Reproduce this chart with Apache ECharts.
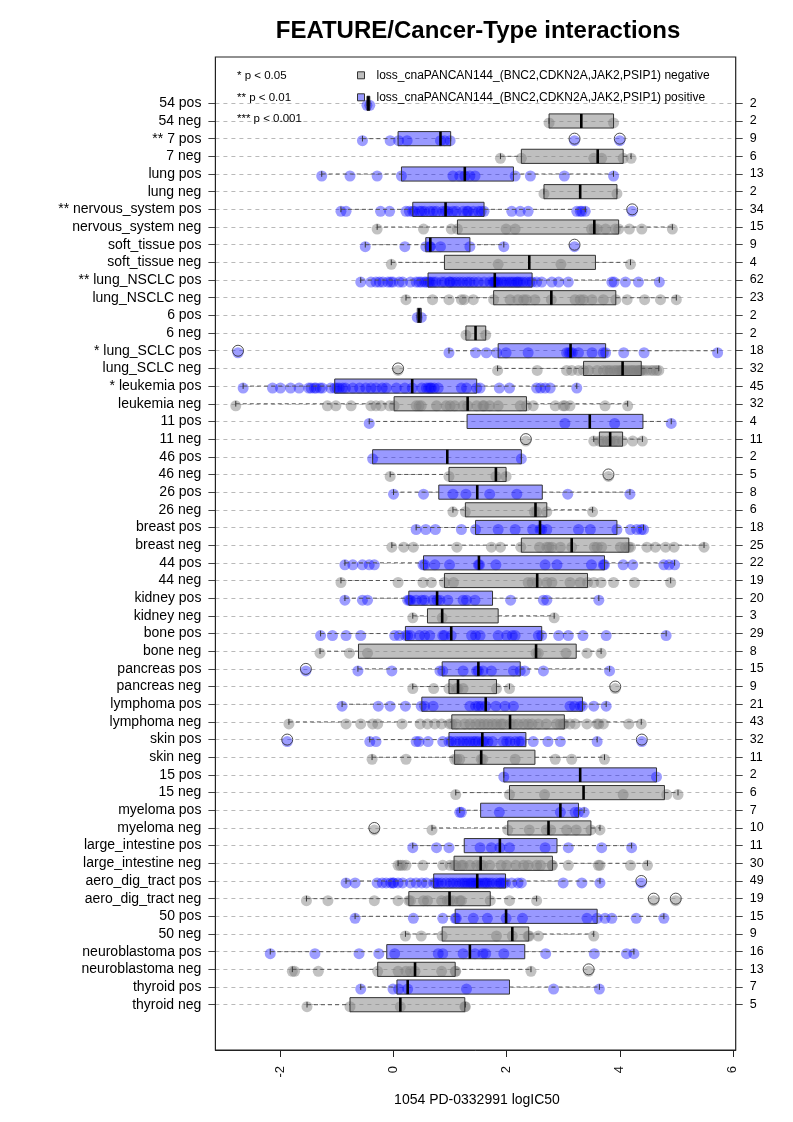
<!DOCTYPE html>
<html><head><meta charset="utf-8">
<script src="https://cdn.jsdelivr.net/npm/echarts/dist/echarts.min.js"></script>
<style>html,body{margin:0;padding:0;background:#fff}#c{width:793px;height:1122px}</style>
</head><body><div id="c"></div>
<script>
const categories = ['54 pos','54 neg','** 7 pos','7 neg','lung pos','lung neg','** nervous_system pos','nervous_system neg','soft_tissue pos','soft_tissue neg','** lung_NSCLC pos','lung_NSCLC neg','6 pos','6 neg','* lung_SCLC pos','lung_SCLC neg','* leukemia pos','leukemia neg','11 pos','11 neg','46 pos','46 neg','26 pos','26 neg','breast pos','breast neg','44 pos','44 neg','kidney pos','kidney neg','bone pos','bone neg','pancreas pos','pancreas neg','lymphoma pos','lymphoma neg','skin pos','skin neg','15 pos','15 neg','myeloma pos','myeloma neg','large_intestine pos','large_intestine neg','aero_dig_tract pos','aero_dig_tract neg','50 pos','50 neg','neuroblastoma pos','neuroblastoma neg','thyroid pos','thyroid neg'];
const counts = [2,2,9,6,13,2,34,15,9,4,62,23,2,2,18,32,45,32,4,11,2,5,8,6,18,25,22,19,20,3,29,8,15,9,21,43,32,11,2,6,7,10,11,30,49,19,15,9,16,13,7,5];
// [whisker low, Q1, median, Q3, whisker high]
const boxStats = [
[-0.47,-0.47,-0.445,-0.42,-0.42],[2.75,2.75,3.32,3.89,3.89],[-0.55,0.08,0.83,1.01,1.01],[1.89,2.26,3.61,4.06,4.2],
[-1.27,0.14,1.26,2.12,3.89],[2.66,2.66,3.3,3.95,3.95],[-0.93,0.34,0.92,1.6,3.39],[-0.29,1.13,3.55,3.98,4.93],
[-0.5,0.57,0.65,1.35,1.95],[-0.04,0.9,2.4,3.57,4.19],[-0.58,0.61,1.79,2.45,4.7],[0.22,1.77,2.79,3.93,5.0],
[0.42,0.42,0.455,0.49,0.49],[1.28,1.28,1.45,1.63,1.63],[0.98,1.85,3.13,3.75,5.73],[1.84,3.36,4.05,4.38,4.69],
[-2.66,-1.04,0.33,1.47,3.24],[-2.79,0.01,1.31,2.35,4.14],[-0.43,1.3,3.47,4.41,4.91],[3.54,3.64,3.83,4.05,4.4],
[-0.37,-0.37,0.95,2.26,2.26],[-0.06,0.98,1.81,1.99,1.99],[0.0,0.8,1.48,2.63,4.18],[1.05,1.27,2.51,2.71,3.52],
[0.4,1.45,2.59,3.95,4.42],[-0.03,2.26,3.15,4.16,5.49],[-0.86,0.53,1.51,3.73,4.97],[-0.93,0.9,2.54,3.43,4.9],
[-0.86,0.27,0.77,1.75,3.63],[0.34,0.6,0.86,1.85,2.84],[-1.29,0.21,1.02,2.62,4.82],[-1.3,-0.62,2.52,3.23,3.67],
[-0.63,0.86,1.5,2.24,3.82],[0.34,0.98,1.14,1.82,2.05],[-0.91,0.5,1.63,3.34,3.76],[-1.85,1.03,2.06,3.02,4.38],
[-0.42,0.98,1.57,2.34,3.6],[-0.38,1.08,1.55,2.5,3.73],[1.95,1.95,3.3,4.65,4.65],[1.1,2.05,3.36,4.79,5.03],
[1.17,1.54,2.95,3.27,3.37],[0.68,2.02,2.74,3.49,3.65],[0.34,1.25,1.88,2.89,4.21],[0.08,1.07,1.54,2.81,4.49],
[-0.84,0.71,1.48,1.98,3.65],[-1.54,0.27,0.99,1.71,2.53],[-0.68,1.09,1.99,3.6,4.78],[0.21,0.86,2.1,2.39,3.54],
[-2.18,-0.12,1.35,2.32,4.25],[-1.79,-0.28,0.38,1.09,2.43],[-0.58,0.06,0.25,2.05,3.64],[-1.53,-0.77,0.12,1.26,1.27]
];
const points = [
[-0.47,-0.42],
[2.75,3.89],
[-0.55,-0.06,0.09,0.24,0.83,0.9,1.0,3.2,4.0],
[1.89,2.26,3.54,3.68,4.06,4.2],
[-1.27,-0.77,-0.29,0.14,1.05,1.17,1.26,1.35,1.44,2.15,2.42,3.02,3.89],
[2.66,3.95],
[-0.93,-0.84,-0.23,-0.07,0.22,0.28,0.34,0.37,0.46,0.5,0.55,0.64,0.7,0.76,0.87,0.92,0.96,1.05,1.11,1.23,1.3,1.32,1.41,1.5,1.55,1.6,2.09,2.24,2.38,3.24,3.3,3.33,3.39,4.22],
[-0.29,0.53,1.02,1.13,1.99,2.15,3.5,3.55,3.6,3.75,3.92,3.98,4.17,4.39,4.93],
[-0.5,0.2,0.57,0.64,0.65,0.83,1.35,1.95,3.2],
[-0.04,1.85,2.96,4.19],
[-0.58,-0.4,-0.31,-0.25,-0.19,-0.1,-0.05,-0.01,0.1,0.16,0.3,0.4,0.45,0.49,0.55,0.58,0.62,0.65,0.7,0.75,0.85,0.9,0.99,1.0,1.05,1.11,1.17,1.23,1.3,1.35,1.42,1.5,1.6,1.7,1.76,1.78,1.79,1.82,1.85,1.91,1.95,2.0,2.05,2.09,2.13,2.18,2.2,2.24,2.29,2.35,2.41,2.45,2.53,2.62,2.8,2.92,3.09,3.86,3.9,4.1,4.33,4.7],
[0.22,0.69,0.98,1.2,1.25,1.41,1.77,2.06,2.2,2.3,2.35,2.5,2.79,3.21,3.3,3.36,3.51,3.71,3.93,4.13,4.44,4.72,5.0],
[0.42,0.49],
[1.28,1.63],
[-2.75,0.98,1.45,1.64,1.82,1.99,2.38,3.06,3.1,3.13,3.16,3.27,3.51,3.71,3.75,4.07,4.43,5.73],
[0.08,1.84,2.54,3.06,3.15,3.27,3.36,3.45,3.6,3.71,3.78,3.83,3.9,3.95,4.0,4.03,4.05,4.08,4.13,4.18,4.22,4.25,4.3,4.34,4.36,4.38,4.42,4.48,4.55,4.6,4.65,4.69],
[-2.66,-2.14,-2.0,-1.82,-1.67,-1.5,-1.46,-1.4,-1.37,-1.3,-1.26,-1.11,-1.04,-1.0,-0.96,-0.9,-0.85,-0.72,-0.6,-0.49,-0.4,-0.31,-0.2,-0.13,0.05,0.2,0.33,0.5,0.58,0.62,0.65,0.67,0.72,0.79,1.2,1.29,1.47,1.53,1.87,2.05,2.53,2.6,2.68,2.77,3.24],
[-2.79,-1.17,-1.02,-0.75,-0.4,-0.31,-0.22,-0.07,0.01,0.4,0.45,0.49,0.76,0.93,1.0,1.08,1.23,1.31,1.47,1.58,1.6,1.7,1.85,2.24,2.35,2.47,2.86,3.0,3.03,3.12,3.74,4.14],
[-0.43,3.03,3.91,4.91],
[2.34,3.54,3.64,3.7,3.78,3.83,3.9,3.95,4.05,4.23,4.4],
[-0.37,2.26],
[-0.06,0.98,1.81,1.99,3.8],
[0.0,0.53,1.05,1.28,1.7,2.18,3.08,4.18],
[1.05,1.27,2.49,2.53,2.71,3.52],
[0.4,0.57,0.74,1.2,1.45,1.85,2.15,2.46,2.59,2.62,2.71,3.27,3.48,3.95,4.19,4.3,4.38,4.42],
[-0.03,0.18,0.35,1.12,1.73,1.89,2.25,2.58,2.71,2.75,2.8,2.95,3.15,3.55,3.6,3.68,4.01,4.1,4.16,4.19,4.48,4.63,4.81,4.96,5.49],
[-0.86,-0.72,-0.55,-0.43,-0.34,0.52,0.55,0.73,0.99,1.5,1.52,1.81,2.68,2.89,3.5,3.71,3.73,4.06,4.23,4.78,4.87,4.97],
[-0.93,0.08,0.52,0.67,0.9,1.06,2.38,2.45,2.54,2.71,2.8,3.12,3.3,3.43,3.54,3.67,3.89,4.26,4.9],
[-0.86,-0.55,-0.46,0.25,0.28,0.3,0.4,0.5,0.55,0.7,0.77,0.82,0.96,1.23,1.29,1.44,2.07,2.65,2.71,3.63],
[0.34,0.86,2.84],
[-1.29,-1.08,-0.84,-0.58,0.02,0.1,0.21,0.25,0.3,0.46,0.55,0.64,0.87,0.9,1.02,1.38,1.45,1.53,1.85,2.0,2.1,2.15,2.56,2.62,2.92,3.09,3.35,3.76,4.82],
[-1.3,-0.78,-0.46,2.52,2.56,3.05,3.42,3.67],
[-1.55,-0.63,-0.03,0.82,0.87,1.23,1.47,1.5,1.58,1.73,2.12,2.24,2.32,2.65,3.82],
[0.34,0.71,0.98,1.11,1.14,1.23,1.82,2.05,3.92],
[-0.91,-0.27,-0.06,0.21,0.49,0.55,0.7,1.35,1.45,1.5,1.55,1.63,1.81,1.97,2.12,3.12,3.2,3.3,3.34,3.54,3.76],
[-1.85,-0.84,-0.58,-0.37,-0.28,0.15,0.47,0.6,0.73,0.85,0.99,1.03,1.11,1.26,1.35,1.45,1.53,1.6,1.67,1.75,1.82,1.9,1.94,2.06,2.12,2.2,2.3,2.38,2.45,2.56,2.7,2.88,2.95,3.0,3.02,3.12,3.21,3.42,3.6,3.63,3.71,4.16,4.38],
[-1.88,-0.42,-0.31,0.4,0.45,0.61,0.87,0.98,1.02,1.1,1.17,1.23,1.29,1.35,1.41,1.45,1.5,1.57,1.6,1.67,1.75,1.94,2.0,2.06,2.15,2.22,2.26,2.47,2.73,2.95,3.6,4.39],
[-0.38,0.22,1.08,1.12,1.17,1.55,1.58,2.15,2.86,3.15,3.73],
[1.95,4.65],
[1.1,2.05,2.67,4.06,4.83,5.03],
[1.17,1.2,1.87,2.95,3.21,3.27,3.37],
[-0.34,0.68,2.02,2.4,2.7,2.78,3.06,3.23,3.49,3.65],
[0.34,0.76,0.98,1.53,1.73,1.88,2.05,2.68,3.09,3.68,4.21],
[0.08,0.12,0.16,0.22,0.52,0.87,1.0,1.07,1.1,1.2,1.23,1.35,1.47,1.54,1.58,1.7,1.9,2.0,2.16,2.3,2.38,2.53,2.6,2.8,2.81,3.09,3.62,3.65,4.19,4.49],
[-0.84,-0.68,-0.29,-0.2,-0.13,-0.05,-0.01,0.0,0.08,0.16,0.3,0.4,0.5,0.58,0.71,0.75,0.79,0.85,0.93,1.0,1.05,1.11,1.17,1.22,1.26,1.3,1.35,1.38,1.41,1.45,1.48,1.52,1.58,1.62,1.65,1.7,1.75,1.82,1.88,1.9,1.94,1.98,2.09,2.2,2.26,3.0,3.33,3.65,4.38],
[-1.54,-1.16,-0.34,0.08,0.27,0.3,0.53,0.6,0.85,0.95,0.99,1.05,1.17,1.2,1.71,2.05,2.53,4.6,4.99],
[-0.68,0.35,0.87,1.09,1.11,1.41,1.66,1.99,2.28,3.42,3.6,3.74,3.86,4.29,4.78],
[0.21,0.49,0.86,1.82,2.1,2.38,2.4,2.56,3.54],
[-2.18,-1.39,-0.61,-0.26,0.02,0.79,0.87,1.23,1.44,1.58,1.63,1.95,2.69,3.55,4.12,4.25],
[-1.79,-1.75,-1.33,-0.28,0.08,0.22,0.3,0.38,0.85,1.09,1.1,2.43,3.45],
[-0.58,-0.01,0.09,0.25,1.29,2.83,3.64],
[-1.53,-0.77,0.12,1.26,1.27]
];
const xTicks = [-2, 0, 2, 4, 6];
const pLegend = ['* p < 0.05', '** p < 0.01', '*** p < 0.001'];
const featureName = 'loss_cnaPANCAN144_(BNC2,CDKN2A,JAK2,PSIP1)';

const FONT = '"Liberation Sans", Arial, Helvetica, sans-serif';
const posPts = [], negPts = [], outPts = [], boxData = [];
categories.forEach((name, k) => {
  const pos = /pos$/.test(name);
  const [lo, q1, md, q3, hi] = boxStats[k];
  boxData.push([k, lo, q1, md, q3, hi]);
  points[k].forEach(v => {
    (pos ? posPts : negPts).push([v, k]);
    if (v < lo - 1e-9 || v > hi + 1e-9) outPts.push([v, k]);
  });
});

function renderBox(params, api) {
  const k = api.value(0);
  const y = api.coord([0, k])[1];
  const X = v => api.coord([v, k])[0];
  const xLo = X(api.value(1)), xQ1 = X(api.value(2)), xMd = X(api.value(3)), xQ3 = X(api.value(4)), xHi = X(api.value(5));
  const rowH = api.size([0, 1])[1];
  const bh = rowH * 0.8, sh = rowH * 0.32;
  const pos = /pos$/.test(categories[k]);
  const wStyle = {stroke: '#555', lineWidth: 1, lineDash: [4, 3]};
  const children = [];
  if (xQ1 - xLo > 0.5) children.push({type: 'line', shape: {x1: xLo, y1: y, x2: xQ1, y2: y}, style: wStyle});
  if (xHi - xQ3 > 0.5) children.push({type: 'line', shape: {x1: xQ3, y1: y, x2: xHi, y2: y}, style: wStyle});
  children.push({type: 'line', shape: {x1: xLo, y1: y - sh / 2, x2: xLo, y2: y + sh / 2}, style: {stroke: '#333', lineWidth: 1}});
  children.push({type: 'line', shape: {x1: xHi, y1: y - sh / 2, x2: xHi, y2: y + sh / 2}, style: {stroke: '#333', lineWidth: 1}});
  children.push({type: 'rect', shape: {x: xQ1, y: y - bh / 2, width: Math.max(xQ3 - xQ1, 1), height: bh},
    style: {fill: pos ? 'rgba(0,0,255,0.4)' : 'rgba(128,128,128,0.5)', stroke: '#333', lineWidth: 1}});
  children.push({type: 'line', shape: {x1: xMd, y1: y - bh / 2, x2: xMd, y2: y + bh / 2}, style: {stroke: '#000', lineWidth: 2.6}});
  return {type: 'group', children};
}

const chart = echarts.init(document.getElementById('c'));
const L = 215.4, R = 735.7, T = 57, B = 1050;
chart.setOption({
  animation: false,
  textStyle: {fontFamily: FONT},
  grid: {left: L, right: 793 - R, top: 103.3, height: 901.4, containLabel: false},
  xAxis: {
    type: 'value', min: -3.15, max: 6.05, position: 'bottom', offset: 45.3,
    axisLine: {show: true, onZero: false, lineStyle: {color: '#222', width: 1}},
    axisTick: {show: true, length: 7, customValues: xTicks, lineStyle: {color: '#222'}},
    axisLabel: {show: true, customValues: xTicks, rotate: 90, margin: 16, fontSize: 13, color: '#111', fontFamily: FONT},
    splitLine: {show: false}
  },
  yAxis: [{
    type: 'category', data: categories, inverse: true, boundaryGap: false, position: 'left',
    axisLine: {show: false, onZero: false},
    axisTick: {show: true, interval: 0, length: 7, lineStyle: {color: '#444'}},
    axisLabel: {interval: 0, margin: 14, fontSize: 14, color: '#000', fontFamily: FONT},
    splitLine: {show: true, interval: 0, lineStyle: {color: '#b9b9b9', type: [4, 4], width: 1}}
  }, {
    type: 'category', data: categories, inverse: true, boundaryGap: false, position: 'right',
    axisLine: {show: false, onZero: false},
    axisTick: {show: true, interval: 0, length: 7, lineStyle: {color: '#444'}},
    axisLabel: {interval: 0, margin: 14, fontSize: 12.5, color: '#000', fontFamily: FONT, formatter: (v, i) => String(counts[i])},
    splitLine: {show: false}
  }],
  series: [
    {type: 'scatter', data: negPts, symbolSize: 11, symbolOffset: [0, 2], clip: false, z: 2, silent: true,
      itemStyle: {color: 'rgba(128,128,128,0.6)'}},
    {type: 'scatter', data: posPts, symbolSize: 11, symbolOffset: [0, 2], clip: false, z: 2, silent: true,
      itemStyle: {color: 'rgba(0,0,255,0.48)'}},
    {type: 'custom', data: boxData, renderItem: renderBox, encode: {x: [1, 2, 3, 4, 5], y: 0}, clip: false, z: 3, silent: true},
    {type: 'scatter', data: outPts, symbolSize: 11, clip: false, z: 4, silent: true,
      itemStyle: {color: 'rgba(0,0,0,0)', borderColor: '#222', borderWidth: 1}}
  ],
  graphic: [
    {type: 'rect', shape: {x: L, y: T, width: R - L, height: B - T}, style: {fill: null, stroke: '#222', lineWidth: 1.2}, z: 10, silent: true},
    {type: 'text', x: 478, y: 31, style: {text: 'FEATURE/Cancer-Type interactions', font: 'bold 24px ' + FONT, fill: '#000', align: 'center', verticalAlign: 'middle'}},
    {type: 'text', x: 477, y: 1100, style: {text: '1054 PD-0332991 logIC50', font: '14px ' + FONT, fill: '#000', align: 'center', verticalAlign: 'middle'}},
    {type: 'text', x: 237, y: 75.5, style: {text: pLegend[0], font: '11.5px ' + FONT, fill: '#000', verticalAlign: 'middle'}, z: 12},
    {type: 'text', x: 237, y: 97.5, style: {text: pLegend[1], font: '11.5px ' + FONT, fill: '#000', verticalAlign: 'middle'}, z: 12},
    {type: 'text', x: 237, y: 119.3, style: {text: pLegend[2], font: '11.5px ' + FONT, fill: '#000', verticalAlign: 'middle'}, z: 12},
    {type: 'rect', shape: {x: 357.5, y: 71.8, width: 7, height: 7}, style: {fill: '#bebebe', stroke: '#333', lineWidth: 1}, z: 12},
    {type: 'rect', shape: {x: 357.5, y: 93.8, width: 7, height: 7}, style: {fill: '#9999ff', stroke: '#333', lineWidth: 1}, z: 12},
    {type: 'text', x: 376.5, y: 75.5, style: {text: featureName + ' negative', font: '12px ' + FONT, fill: '#000', verticalAlign: 'middle'}, z: 12},
    {type: 'text', x: 376.5, y: 97.5, style: {text: featureName + ' positive', font: '12px ' + FONT, fill: '#000', verticalAlign: 'middle'}, z: 12}
  ]
});
</script>
</body></html>
